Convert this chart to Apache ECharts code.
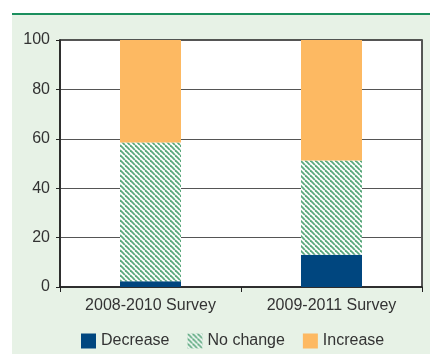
<!DOCTYPE html>
<html>
<head>
<meta charset="utf-8">
<script src="https://cdn.jsdelivr.net/npm/echarts@6/dist/echarts.min.js"></script>
<style>html,body{margin:0;padding:0;background:#fff}#c{width:430px;height:354px}</style>
</head>
<body>
<div id="c"></div>
<script>
// Survey periods and share of respondents (%)
var categories = ['2008-2010 Survey', '2009-2011 Survey'];
var decrease = [2.3, 13.1];
var noChange = [56.2, 38.1];
var increase = [41.5, 48.8];
var yTicks = [0, 20, 40, 60, 80, 100];

// diagonal green hatch for the "No change" segment
function hatch() {
  var s = 5, cv = document.createElement('canvas');
  cv.width = s; cv.height = s;
  var g = cv.getContext('2d');
  g.fillStyle = '#ffffff'; g.fillRect(0, 0, s, s);
  g.strokeStyle = '#5aa87c'; g.lineWidth = 1.8;
  for (var k = -1; k <= 1; k++) {
    g.beginPath();
    g.moveTo(k * s, 0); g.lineTo(k * s + s, s);
    g.stroke();
  }
  return cv;
}
var hatchFill = { image: hatch(), repeat: 'repeat' };

var chart = echarts.init(document.getElementById('c'));
var font = 'Liberation Sans, Arial, sans-serif';
chart.setOption({
  backgroundColor: '#fff',
  animation: false,
  graphic: [
    { type: 'rect', z: -10, shape: { x: 12, y: 14, width: 418, height: 340 }, style: { fill: '#e7f2e6' } },
    { type: 'line', z: -9, shape: { x1: 12, y1: 14, x2: 430, y2: 14 }, style: { stroke: '#1b8f5e', lineWidth: 2 } }
  ],
  grid: { left: 60, right: 8, top: 40, bottom: 67, show: true, backgroundColor: '#fff', borderColor: '#222', borderWidth: 1.5 },
  legend: {
    top: 328, left: 76,
    itemWidth: 15, itemHeight: 15, itemGap: 18,
    textStyle: { fontFamily: font, fontSize: 16, color: '#333' },
    icon: 'rect',
    data: ['Decrease', 'No change', 'Increase']
  },
  xAxis: {
    type: 'category', data: categories,
    axisLine: { lineStyle: { color: '#222', width: 1.5 } },
    axisTick: { show: true, length: 5, lineStyle: { color: '#222' } },
    axisLabel: { fontFamily: font, fontSize: 16, color: '#333', margin: 11 }
  },
  yAxis: {
    type: 'value', min: yTicks[0], max: yTicks[yTicks.length - 1], interval: 20,
    axisLine: { show: true, lineStyle: { color: '#222', width: 1.5 } },
    axisTick: { show: true, length: 4, lineStyle: { color: '#222' } },
    splitLine: { lineStyle: { color: '#555', width: 1 } },
    axisLabel: { fontFamily: font, fontSize: 16, color: '#333', margin: 10 }
  },
  series: [
    { name: 'Decrease', type: 'bar', stack: 't', barWidth: 61, data: decrease, itemStyle: { color: '#00467f' } },
    { name: 'No change', type: 'bar', stack: 't', data: noChange, itemStyle: { color: hatchFill } },
    { name: 'Increase', type: 'bar', stack: 't', data: increase, itemStyle: { color: '#fdb962' } }
  ]
});
</script>
</body>
</html>
